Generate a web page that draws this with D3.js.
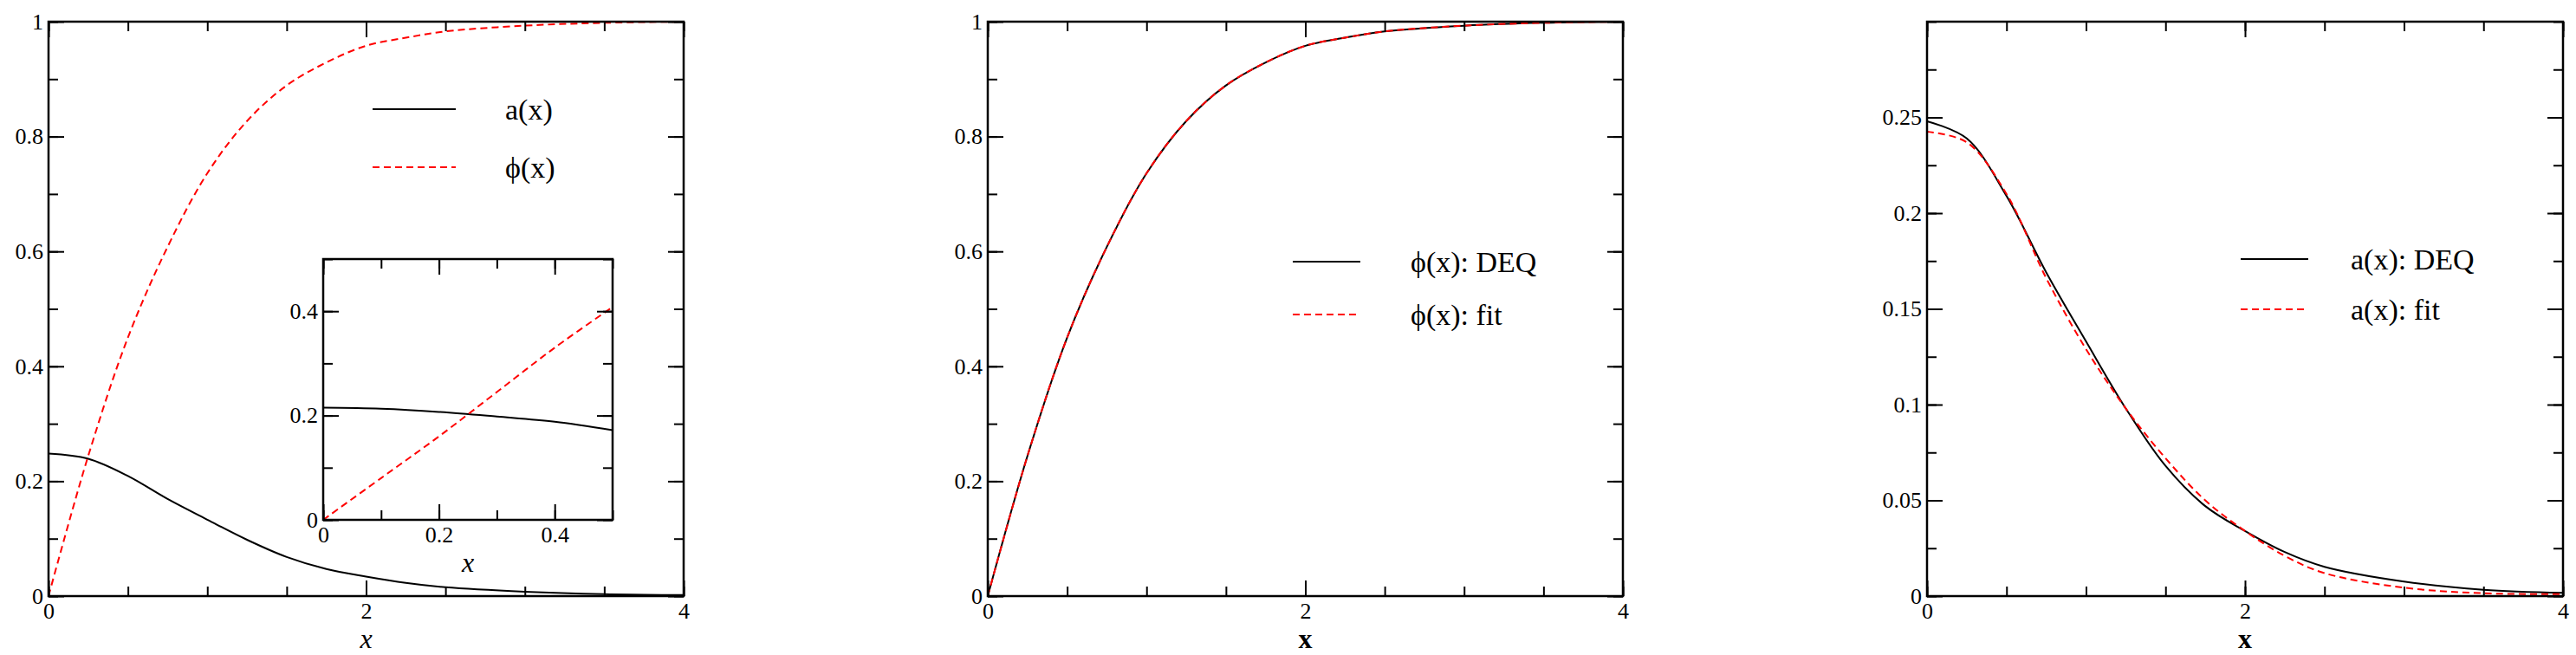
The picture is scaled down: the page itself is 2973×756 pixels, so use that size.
<!DOCTYPE html>
<html><head><meta charset="utf-8">
<script src="https://cdn.jsdelivr.net/npm/d3@7"></script>
<style>body{margin:0;background:#fff}text{font-family:"Liberation Serif","Times New Roman","DejaVu Serif",serif;fill:#000}</style>
</head><body><svg id="c" width="2973" height="756"></svg>
<script>
const xs = [0,0.25,0.5,0.75,1,1.25,1.5,1.75,2,2.25,2.5,3,3.5,4];
const phiDEQ = [0,0.244,0.45,0.608,0.736,0.827,0.889,0.929,0.958,0.972,0.983,0.993,0.998,1.0];
const phiFit = [0,0.244,0.45,0.608,0.736,0.827,0.889,0.929,0.958,0.972,0.983,0.993,0.998,1.0];
const aDEQ = [0.248,0.239,0.209,0.169,0.133,0.098,0.068,0.047,0.034,0.023,0.0153,0.0076,0.0033,0.0017];
const aFit = [0.2425,0.237,0.21,0.166,0.129,0.098,0.072,0.050,0.034,0.021,0.012,0.0044,0.0015,0.001];
const insetX = [0,0.1,0.2,0.3,0.4,0.5];
const insetA = [0.215,0.213,0.207,0.198,0.188,0.172];
const insetPhi = [0,0.08,0.16,0.245,0.33,0.408];

const svg = d3.select("#c");
const T = 25, B = 688;
const FF = "Liberation Serif, Times New Roman, DejaVu Serif, serif";

function panel(o){
  const g = svg.append("g");
  const x = d3.scaleLinear().domain(o.xd).range([o.l,o.r]);
  const y = d3.scaleLinear().domain(o.yd).range([o.b,o.t]);
  const lines = g.append("g");
  o.series.forEach(s=>{
    lines.append("path").datum(s.xv.map((v,i)=>[v,s.yv[i]]))
      .attr("fill","none").attr("stroke",s.c).attr("stroke-width",2)
      .attr("stroke-dasharray",s.dash||null)
      .attr("d",d3.line().x(d=>x(d[0])).y(d=>y(d[1])).curve(d3.curveCatmullRom));
  });
  const big=o.fs, maj=o.maj, mn=o.mn;
  const tk=(axis,tr,vals,len,labels)=>{
    const a=g.append("g").attr("transform",tr).call(axis.tickValues(vals).tickSize(len).tickSizeOuter(0).tickPadding(8).tickFormat(labels?o.fmt:()=>""));
    a.selectAll("path").remove();
    a.selectAll("line").attr("stroke","#000").attr("stroke-width",2);
    a.selectAll("text").attr("font-size",big).attr("fill","#000").attr("font-family",FF);
    return a;
  };
  const ymin=d3.range(o.yd[0],o.yd[1]+1e-9,o.ymn).map(v=>+v.toFixed(4));
  const xmin=d3.range(o.xd[0],o.xd[1]+1e-9,o.xmn).map(v=>+v.toFixed(4));
  tk(d3.axisBottom(x),`translate(0,${o.b})`,xmin,-mn,false);
  tk(d3.axisTop(x),`translate(0,${o.t})`,xmin,-mn,false);
  tk(d3.axisLeft(y),`translate(${o.l},0)`,ymin,-mn,false);
  tk(d3.axisRight(y),`translate(${o.r},0)`,ymin,-mn,false);
  tk(d3.axisBottom(x),`translate(0,${o.b})`,o.xt,-maj,true).selectAll("text").attr("y",8);
  tk(d3.axisTop(x),`translate(0,${o.t})`,o.xt,-maj,false);
  tk(d3.axisLeft(y),`translate(${o.l},0)`,o.yt,-maj,true).selectAll("text").attr("x",-6);
  tk(d3.axisRight(y),`translate(${o.r},0)`,o.yt,-maj,false);
  g.append("rect").attr("x",o.l).attr("y",o.t).attr("width",o.r-o.l).attr("height",o.b-o.t)
    .attr("fill","none").attr("stroke","#000").attr("stroke-width",2.5);
  g.append("text").attr("x",(o.l+o.r)/2).attr("y",o.b+o.xlY).attr("text-anchor","middle")
    .attr("font-size",o.xlfs).attr("font-family",FF).attr("font-style",o.italic?"italic":null).attr("font-weight",o.italic?null:"bold").text("x");
  (o.legend||[]).forEach(L=>{
    g.append("line").attr("x1",L.x1).attr("x2",L.x2).attr("y1",L.y).attr("y2",L.y)
      .attr("stroke",L.c).attr("stroke-width",2).attr("stroke-dasharray",L.dash||null);
    g.append("text").attr("x",L.tx).attr("y",L.y).attr("dy","0.35em").attr("font-size",34).attr("font-family",FF).text(L.label);
  });
}
const fmt=d=>String(d);
panel({l:56,r:789,t:T,b:B,xd:[0,4],yd:[0,1],xt:[0,2,4],yt:[0,0.2,0.4,0.6,0.8,1],xmn:0.5,ymn:0.1,maj:18,mn:11,fs:26,fmt,xlY:60,xlfs:32,italic:true,
  series:[{xv:xs,yv:aDEQ,c:"#000"},{xv:xs,yv:phiDEQ,c:"#ff0000",dash:"8,5"}],
  legend:[{x1:430,x2:526,y:126,c:"#000",tx:583,label:"a(x)"},{x1:430,x2:526,y:193,c:"#ff0000",dash:"8,5",tx:583,label:"ϕ(x)"}]});
panel({l:373,r:707,t:299,b:600,xd:[0,0.5],yd:[0,0.5],xt:[0,0.2,0.4],yt:[0,0.2,0.4],xmn:0.1,ymn:0.1,maj:18,mn:11,fs:26,fmt,xlY:60,xlfs:32,italic:true,
  series:[{xv:insetX,yv:insetA,c:"#000"},{xv:insetX,yv:insetPhi,c:"#ff0000",dash:"8,5"}]});
panel({l:1140,r:1873,t:T,b:B,xd:[0,4],yd:[0,1],xt:[0,2,4],yt:[0,0.2,0.4,0.6,0.8,1],xmn:0.5,ymn:0.1,maj:18,mn:11,fs:26,fmt,xlY:60,xlfs:32,italic:false,
  series:[{xv:xs,yv:phiDEQ,c:"#000"},{xv:xs,yv:phiFit,c:"#ff0000",dash:"8,5"}],
  legend:[{x1:1492,x2:1570,y:302,c:"#000",tx:1628,label:"ϕ(x): DEQ"},{x1:1492,x2:1570,y:363,c:"#ff0000",dash:"8,5",tx:1628,label:"ϕ(x): fit"}]});
panel({l:2224,r:2958,t:T,b:B,xd:[0,4],yd:[0,0.3],xt:[0,2,4],yt:[0,0.05,0.1,0.15,0.2,0.25],xmn:0.5,ymn:0.025,maj:18,mn:11,fs:26,fmt,xlY:60,xlfs:32,italic:false,
  series:[{xv:xs,yv:aDEQ,c:"#000"},{xv:xs,yv:aFit,c:"#ff0000",dash:"8,5"}],
  legend:[{x1:2586,x2:2664,y:299,c:"#000",tx:2713,label:"a(x):  DEQ"},{x1:2586,x2:2664,y:357,c:"#ff0000",dash:"8,5",tx:2713,label:"a(x):  fit"}]});
</script></body></html>
